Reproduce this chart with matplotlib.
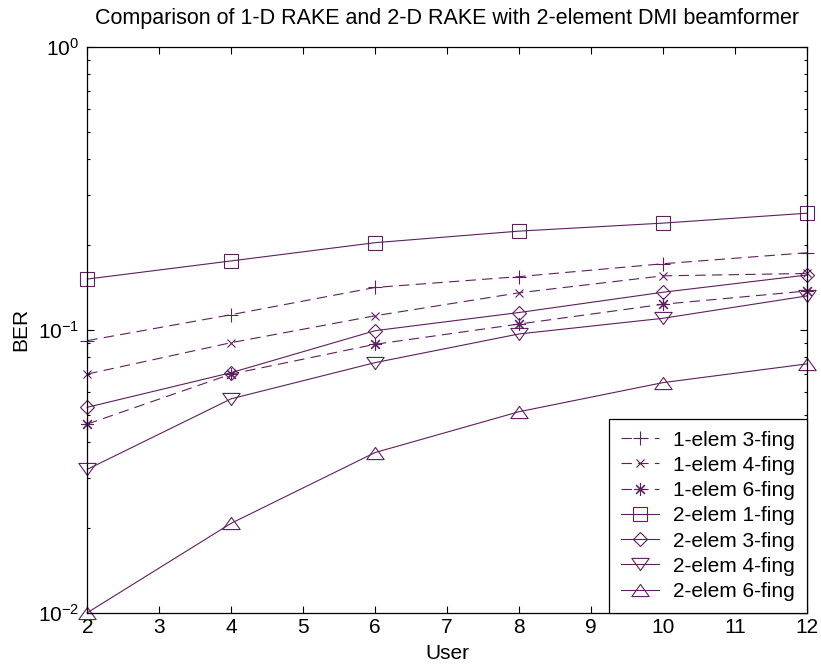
import matplotlib
matplotlib.use("Agg")
import matplotlib.pyplot as plt
from matplotlib.path import Path
import numpy as np

users = [2, 4, 6, 8, 10, 12]
ber_1e_3f = [0.0915, 0.113, 0.141, 0.154, 0.171, 0.187]
ber_1e_4f = [0.0697, 0.090, 0.112, 0.135, 0.155, 0.158]
ber_1e_6f = [0.0464, 0.0697, 0.0888, 0.1047, 0.123, 0.137]
ber_2e_1f = [0.151, 0.175, 0.203, 0.223, 0.238, 0.258]
ber_2e_3f = [0.0532, 0.0705, 0.0992, 0.115, 0.1356, 0.156]
ber_2e_4f = [0.0321, 0.057, 0.0765, 0.0966, 0.1097, 0.1316]
ber_2e_6f = [0.0100, 0.0207, 0.0368, 0.0513, 0.065, 0.0757]

labels = ["1-elem 3-fing", "1-elem 4-fing", "1-elem 6-fing",
          "2-elem 1-fing", "2-elem 3-fing", "2-elem 4-fing", "2-elem 6-fing"]
title = "Comparison of 1-D RAKE and 2-D RAKE with 2-element DMI beamformer"

plt.rcParams['font.family'] = ['Liberation Sans', 'DejaVu Sans']
plt.rcParams['mathtext.fontset'] = 'custom'
plt.rcParams['mathtext.rm'] = 'Liberation Sans'
plt.rcParams['mathtext.it'] = 'Liberation Sans'
plt.rcParams['mathtext.bf'] = 'Liberation Sans'
plt.rcParams['lines.scale_dashes'] = False

FS = 15
color = '#5e1f5e'
tri_down = Path([(-1, 0.7), (1, 0.7), (0, -0.7), (-1, 0.7)],
                [Path.MOVETO, Path.LINETO, Path.LINETO, Path.CLOSEPOLY])
tri_up = Path([(-1, -0.7), (1, -0.7), (0, 0.7), (-1, -0.7)],
              [Path.MOVETO, Path.LINETO, Path.LINETO, Path.CLOSEPOLY])

fig = plt.figure(figsize=(8.21, 6.72), dpi=100)
ax = fig.add_axes([87.3/821, 1-612.7/672, (806.7-87.3)/821, (612.7-46.7)/672])

series = [
    (ber_1e_3f, '+', 9.5, '--'),
    (ber_1e_4f, 'x', 5.8, '--'),
    (ber_1e_6f, (8, 2, 0), 9.0, '--'),
    (ber_2e_1f, 's', 9.4, '-'),
    (ber_2e_3f, 'D', 7.5, '-'),
    (ber_2e_4f, tri_down, 12.5, '-'),
    (ber_2e_6f, tri_up, 12.5, '-'),
]
for (vals, mk, ms, ls), lab in zip(series, labels):
    kw = dict(color=color, marker=mk, markersize=ms, markerfacecolor='none',
              markeredgecolor=color, markeredgewidth=0.8, linewidth=0.8,
              linestyle=ls, label=lab, clip_on=False)
    if ls == '--':
        kw['dashes'] = (7.5, 4.5)
    ax.plot(users, vals, **kw)

ax.set_yscale('log')
ax.set_xlim(2, 12)
ax.set_ylim(1e-2, 1)
ax.set_xticks(range(2, 13))
ax.tick_params(which='both', direction='in', top=True, right=True, labelsize=FS, width=0.8)
ax.tick_params(which='major', length=5)
ax.tick_params(which='minor', length=2.5)
ax.tick_params(axis='y', which='both', pad=6)
ax.tick_params(axis='x', which='both', pad=4)
for s in ax.spines.values():
    s.set_linewidth(0.9)

ax.set_title(title, fontsize=15.5, pad=16)
ax.set_xlabel("User", fontsize=FS, labelpad=5)
ax.set_ylabel("BER", fontsize=FS, labelpad=5)

leg = ax.legend(loc='lower right', borderaxespad=0, fontsize=FS, frameon=True,
                fancybox=False, edgecolor='black', framealpha=1,
                handlelength=1.8, labelspacing=0.3, borderpad=0.56,
                handletextpad=0.7)
leg.get_frame().set_linewidth(0.9)

fig.savefig("out.png", dpi=100)
